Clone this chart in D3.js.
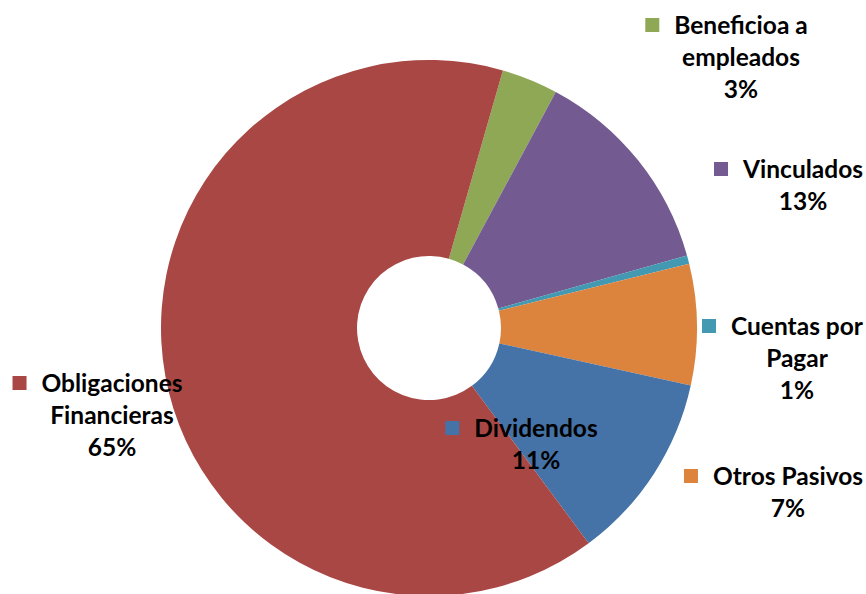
<!DOCTYPE html>
<html>
<head>
<meta charset="utf-8">
<script src="https://cdn.jsdelivr.net/npm/d3@7"></script>
<style>
  body { margin: 0; background: #fff; }
  text { font-family: Lato, "Open Sans", sans-serif; font-weight: bold; fill: #000; }
</style>
</head>
<body>
<div id="chart"></div>
<script>
// data, clockwise from the first slice
let categories = ["Beneficioa a empleados", "Vinculados", "Cuentas por Pagar", "Otros Pasivos", "Dividendos", "Obligaciones Financieras"];
let values = [3.4, 12.8, 0.5, 7.3, 11.4, 64.6];
let pctLabels = ["3%", "13%", "1%", "7%", "11%", "65%"];
let labelLines = [["Beneficioa a", "empleados"], ["Vinculados"], ["Cuentas por", "Pagar"], ["Otros Pasivos"], ["Dividendos"], ["Obligaciones", "Financieras"]];
let colors = ["#8EA856", "#735A91", "#4299B1", "#DC843E", "#4572A7", "#A94744"];

// label layout (center x of text block, baseline of first line)
let labelPos = [[741, 34], [803, 178], [797, 335], [788, 485], [536, 437], [112, 392]];

let width = 866, height = 594;
let cx = 429, cy = 328, outerR = 268, innerR = 72;
let firstAngle = 16 * Math.PI / 180;
let lineH = 32, fontSize = 24.5, keySize = 14;

let svg = d3.select("#chart").append("svg")
    .attr("width", width)
    .attr("height", height);

let pie = d3.pie()
    .sort(null)
    .value(d => d)
    .startAngle(firstAngle)
    .endAngle(firstAngle + 2 * Math.PI);

let arc = d3.arc().innerRadius(innerR).outerRadius(outerR);

svg.append("g")
    .attr("transform", `translate(${cx},${cy})`)
    .selectAll("path")
    .data(pie(values))
    .enter()
    .append("path")
    .attr("d", arc)
    .attr("fill", (d, i) => colors[i]);

// data labels with legend key
let labels = svg.selectAll(".label")
    .data(categories)
    .enter()
    .append("g")
    .attr("class", "label")
    .attr("transform", (d, i) => `translate(${labelPos[i][0]},${labelPos[i][1]})`);

labels.each(function(d, i) {
    let g = d3.select(this);
    let lines = labelLines[i].concat([pctLabels[i]]);
    let t = g.append("text")
        .attr("text-anchor", "middle")
        .attr("font-size", fontSize);
    lines.forEach((l, j) => {
        t.append("tspan").attr("x", 0).attr("y", j * lineH).text(l);
    });
    let firstW = t.select("tspan").node().getComputedTextLength();
    g.append("rect")
        .attr("x", -firstW / 2 - keySize - 15)
        .attr("y", -keySize - 2)
        .attr("width", keySize)
        .attr("height", keySize)
        .attr("fill", colors[i]);
});
</script>
</body>
</html>
